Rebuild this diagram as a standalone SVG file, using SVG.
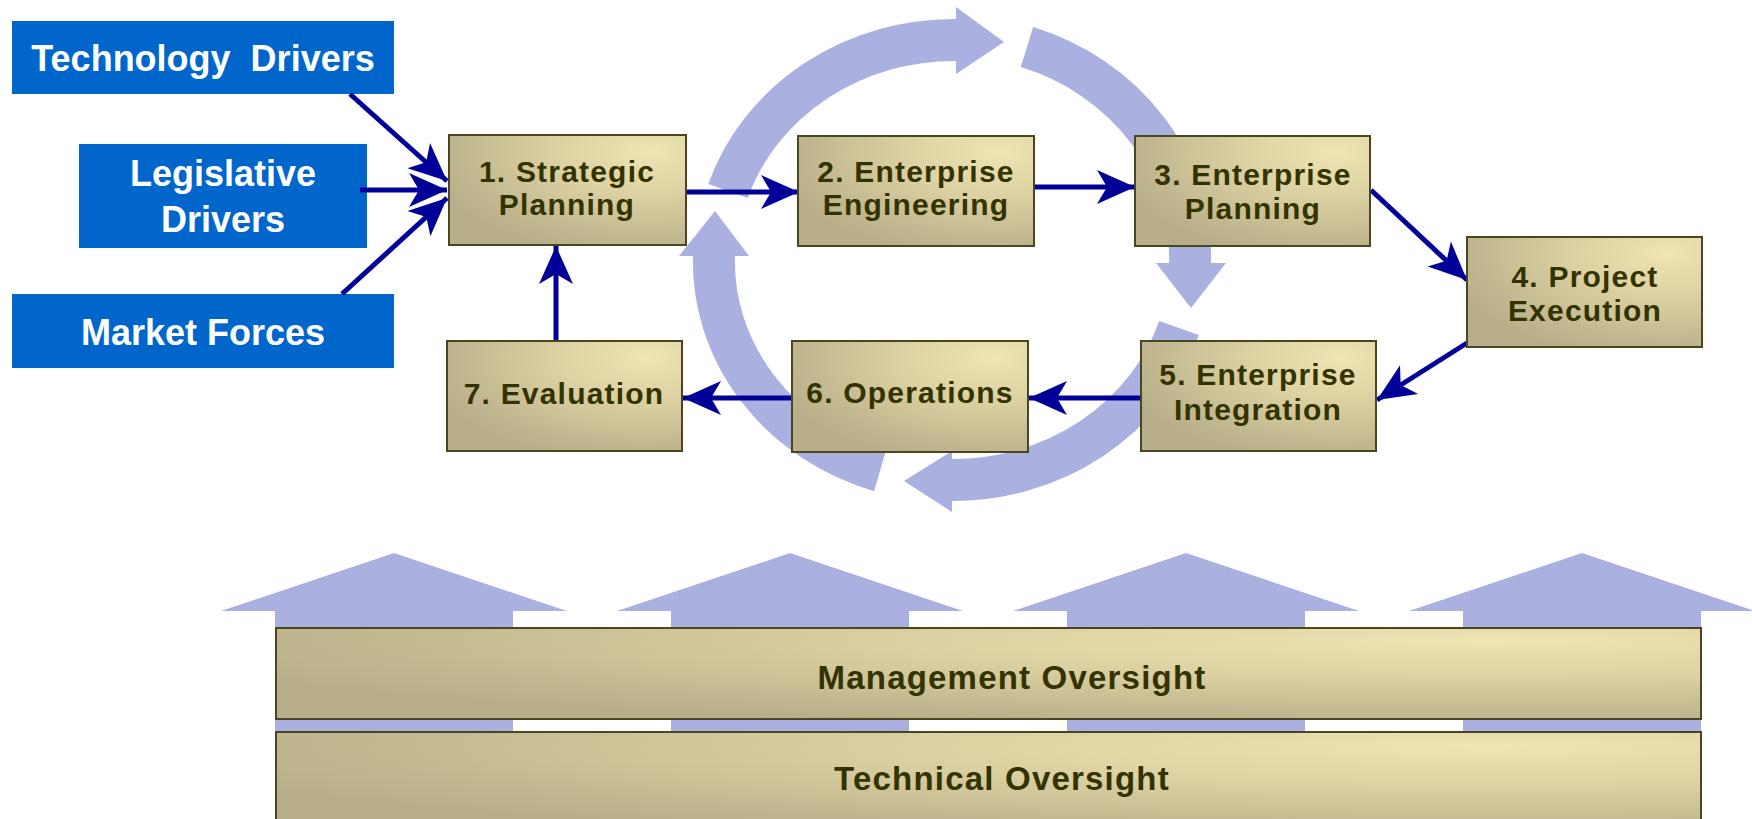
<svg xmlns="http://www.w3.org/2000/svg" width="1752" height="819" viewBox="0 0 1752 819">
<defs>
<radialGradient id="tan" cx="0.85" cy="0.15" r="0.95" fx="0.85" fy="0.15">
<stop offset="0" stop-color="#EFE5B3"/>
<stop offset="0.45" stop-color="#D9CFA0"/>
<stop offset="1" stop-color="#B8AE89"/>
</radialGradient>
<marker id="ah" markerUnits="userSpaceOnUse" markerWidth="44" markerHeight="40" viewBox="-40 -20 44 40" refX="0" refY="0" orient="auto">
<path d="M0,0 L-38,-17 L-28,0 L-38,17 Z" fill="#000099"/>
</marker>
<style>
.lav{fill:#AAB0DF}
.ring{fill:none;stroke:#AAB0DF;stroke-width:42}
.drv{fill:#0066CC}
.drvt{font-family:"Liberation Sans",Arial,sans-serif;font-weight:bold;font-size:36px;fill:#FFFFFF;text-anchor:middle}
.box{fill:url(#tan);stroke:#4A4720;stroke-width:2}
.bt{font-family:"Liberation Sans",Arial,sans-serif;font-weight:bold;font-size:30px;letter-spacing:1.2px;fill:#333300;text-anchor:middle}
.bar{font-family:"Liberation Sans",Arial,sans-serif;font-weight:bold;font-size:33px;letter-spacing:1.2px;fill:#333300;text-anchor:middle}
.con{fill:none;stroke:#000099;stroke-width:5;marker-end:url(#ah)}
</style>
</defs>

<g id="up-arrows">
<polygon class="lav" points="394,553 567,611 513,611 513,800 275,800 275,611 221,611"/>
<polygon class="lav" points="790,553 963,611 909,611 909,800 671,800 671,611 617,611"/>
<polygon class="lav" points="1186,553 1359,611 1305,611 1305,800 1067,800 1067,611 1013,611"/>
<polygon class="lav" points="1582,553 1755,611 1701,611 1701,800 1463,800 1463,611 1409,611"/>
</g>

<g id="cycle">
<path class="ring" d="M728,191 A238 220 0 0 1 958,40"/>
<polygon class="lav" points="956,7 1004,42 956,74"/>
<path class="ring" d="M1027,47 A238 220 0 0 1 1190,264"/>
<polygon class="lav" points="1156,263 1226,263 1191,308"/>
<path class="ring" d="M1179,328 A238 220 0 0 1 950,480"/>
<polygon class="lav" points="952,451 904,481 952,512"/>
<path class="ring" d="M880,471 A238 220 0 0 1 714,254"/>
<polygon class="lav" points="679,256 749,256 715,211"/>
</g>

<g id="technology-drivers">
<rect class="drv" x="12" y="21" width="382" height="73"/>
<text class="drvt" x="203" y="71" xml:space="preserve">Technology  Drivers</text>
</g>
<g id="legislative-drivers">
<rect class="drv" x="79" y="144" width="288" height="104"/>
<text class="drvt" x="223" y="186">Legislative</text>
<text class="drvt" x="223" y="232">Drivers</text>
</g>
<g id="market-forces">
<rect class="drv" x="12" y="294" width="382" height="74"/>
<text class="drvt" x="203" y="345">Market Forces</text>
</g>

<g id="connectors">
<line class="con" x1="350" y1="94" x2="447" y2="181"/>
<line class="con" x1="360" y1="190" x2="447" y2="190"/>
<line class="con" x1="342" y1="294" x2="447" y2="198"/>
<line class="con" x1="686" y1="192" x2="799" y2="192"/>
<line class="con" x1="1034" y1="187" x2="1135" y2="187"/>
<line class="con" x1="1371" y1="190" x2="1467" y2="280"/>
<line class="con" x1="1467" y1="343" x2="1377" y2="400"/>
<line class="con" x1="1141" y1="398" x2="1029" y2="398"/>
<line class="con" x1="795" y1="398" x2="683" y2="398"/>
<line class="con" x1="556" y1="341" x2="556" y2="246"/>
</g>

<g id="n1">
<rect class="box" x="449" y="135" width="237" height="110"/>
<text class="bt" x="567" y="182">1. Strategic</text>
<text class="bt" x="567" y="215">Planning</text>
</g>
<g id="n2">
<rect class="box" x="798" y="136" width="236" height="110"/>
<text class="bt" x="916" y="182">2. Enterprise</text>
<text class="bt" x="916" y="215">Engineering</text>
</g>
<g id="n3">
<rect class="box" x="1135" y="136" width="235" height="110"/>
<text class="bt" x="1253" y="185">3. Enterprise</text>
<text class="bt" x="1253" y="219">Planning</text>
</g>
<g id="n4">
<rect class="box" x="1467" y="237" width="235" height="110"/>
<text class="bt" x="1585" y="287">4. Project</text>
<text class="bt" x="1585" y="321">Execution</text>
</g>
<g id="n5">
<rect class="box" x="1141" y="341" width="235" height="110"/>
<text class="bt" x="1258" y="385">5. Enterprise</text>
<text class="bt" x="1258" y="420">Integration</text>
</g>
<g id="n6">
<rect class="box" x="792" y="341" width="236" height="111"/>
<text class="bt" x="910" y="403">6. Operations</text>
</g>
<g id="n7">
<rect class="box" x="447" y="341" width="235" height="110"/>
<text class="bt" x="564" y="404">7. Evaluation</text>
</g>

<g id="management-oversight">
<rect class="box" x="276" y="628" width="1425" height="91"/>
<text class="bar" x="1012" y="689">Management Oversight</text>
</g>
<g id="technical-oversight">
<rect class="box" x="276" y="732" width="1425" height="100"/>
<text class="bar" x="1002" y="790">Technical Oversight</text>
</g>
</svg>
